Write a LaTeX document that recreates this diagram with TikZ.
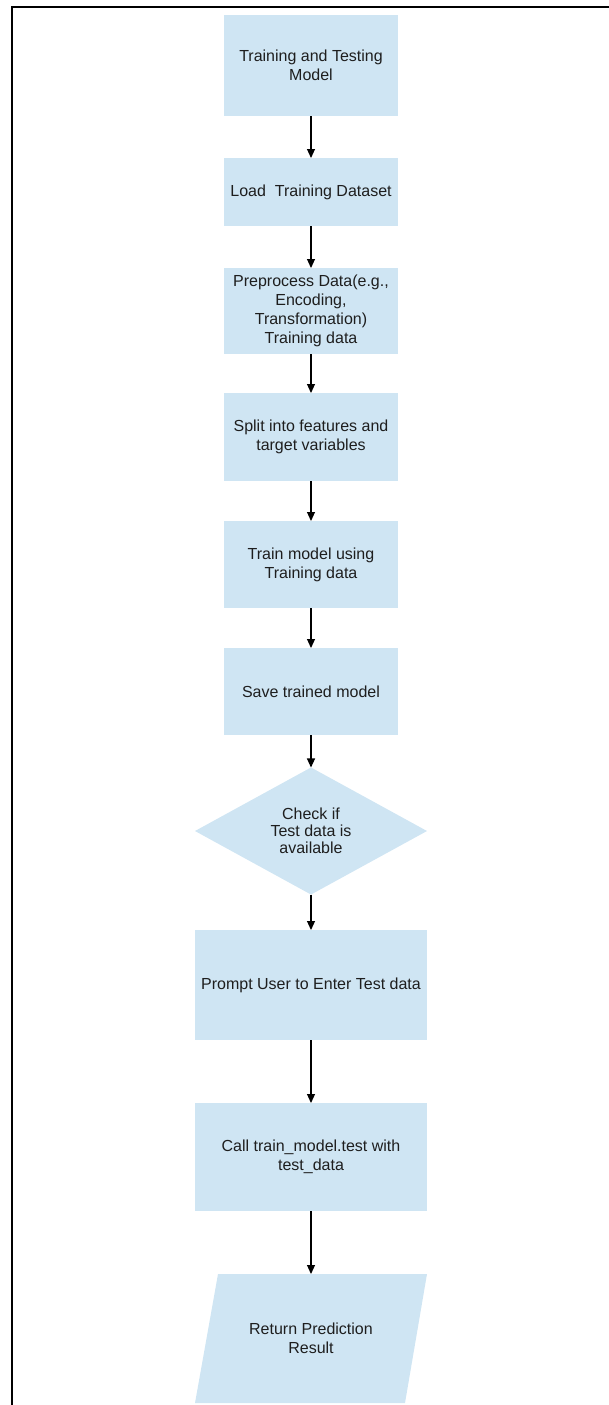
\documentclass[tikz,border=0pt]{standalone}
\usepackage{fontspec}
\setmainfont{Liberation Sans}
\usetikzlibrary{arrows.meta,shapes.geometric}
\definecolor{boxfill}{RGB}{207,229,243}
\definecolor{txt}{RGB}{30,30,30}
\begin{document}
\begin{tikzpicture}[x=1pt,y=-1pt,
  box/.style={rectangle, fill=boxfill, text=txt, align=center,
    font=\fontsize{16}{18.8}\selectfont, inner sep=0pt, outer sep=0pt},
  narrow/.style={box, minimum width=174pt},
  wide/.style={box, minimum width=232pt},
  decision/.style={diamond, fill=boxfill, text=txt, align=center,
    font=\fontsize{16}{17.2}\selectfont, inner sep=0pt, outer sep=0pt,
    minimum width=232pt, minimum height=112pt},
  arr/.style={-{Triangle[width=8pt,length=9pt]}, line width=1.1pt, black},
  frame/.style={line width=2pt, black}]
\useasboundingbox (0,0) rectangle (609,1405);

% frame (left and top edges)
\coordinate (fbl) at (11.8,1405);
\coordinate (ftl) at (11.8,6.7);
\coordinate (ftr) at (609,6.7);
\draw[frame] (fbl) -- (ftl) -- (ftr);

\node[narrow, minimum height=101pt] (b1) at (311,65.5) {Training and Testing\\Model};
\node[narrow, minimum height=68pt] (b2) at (311,192) {Load\ \ Training Dataset};
\node[narrow, minimum height=86pt] (b3) at (311,311) {Preprocess Data(e.g.,\\Encoding,\\Transformation)\\Training data};
\node[narrow, minimum height=88pt] (b4) at (311,437) {Split into features and\\target variables};
\node[narrow, minimum height=87pt] (b5) at (311,564.5) {Train model using\\Training data};
\node[narrow, minimum height=87pt] (b6) at (311,691.5) {Save trained model};
\node[decision] (d) at (311,831) {Check if\\Test data is\\available};
\node[wide, minimum height=110pt] (b7) at (311,985) {Prompt User to Enter Test data};
\node[wide, minimum height=108pt] (b8) at (311,1157) {Call train\_model.test with\\test\_data};

% parallelogram (output)
\coordinate (ptl) at (218,1274);
\coordinate (ptr) at (427,1274);
\coordinate (pbr) at (405,1403);
\coordinate (pbl) at (195,1403);
\fill[boxfill] (ptl) -- (ptr) -- (pbr) -- (pbl) -- cycle;
\node[rectangle, text=txt, align=center, font=\fontsize{16}{18.8}\selectfont,
  inner sep=0pt, outer sep=0pt, minimum height=129pt] (p) at (311,1338.5) {Return Prediction\\Result};

\draw[arr] (b1.south) -- (b2.north);
\draw[arr] (b2.south) -- (b3.north);
\draw[arr] (b3.south) -- (b4.north);
\draw[arr] (b4.south) -- (b5.north);
\draw[arr] (b5.south) -- (b6.north);
\draw[arr] (b6.south) -- (d.north);
\draw[arr] (d.south) -- (b7.north);
\draw[arr] (b7.south) -- (b8.north);
\draw[arr] (b8.south) -- (p.north);
\end{tikzpicture}
\end{document}
